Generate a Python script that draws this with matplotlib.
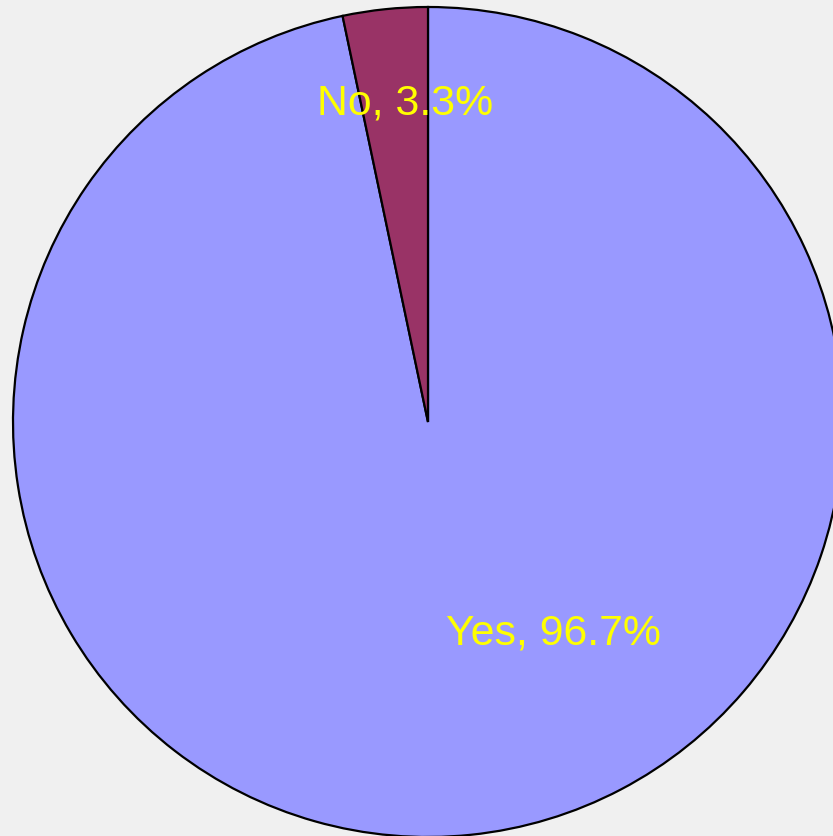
import matplotlib
matplotlib.use("Agg")
import matplotlib.pyplot as plt

labels = ["Yes", "No"]
values = [96.7, 3.3]
colors = ["#9999FF", "#993366"]

W, H = 833, 836
R = 415.0
cx, cy = 428, 422

fig = plt.figure(figsize=(W / 100, H / 100), dpi=100)
fig.patch.set_facecolor("#F0F0F0")
ax = fig.add_axes([0, 0, 1, 1])
ax.set_facecolor("#F0F0F0")
ax.axis("off")

ax.pie(values, colors=colors, startangle=90, counterclock=False, radius=1.0,
       wedgeprops=dict(edgecolor="black", linewidth=1.6))

ax.set_xlim(-cx / R, (W - cx) / R)
ax.set_ylim(-(H - cy) / R, cy / R)
ax.set_aspect("auto")

label_pos = {"No": (405, 114), "Yes": (553.5, 645)}
for lab, val in zip(labels, values):
    px, py = label_pos[lab]
    ax.text((px - cx) / R, (cy - py) / R, f"{lab}, {val}%", color="#FFFF00",
            fontsize=30.8, family="Liberation Sans", ha="center", va="baseline")

fig.savefig("out.png", dpi=100, facecolor=fig.get_facecolor())
